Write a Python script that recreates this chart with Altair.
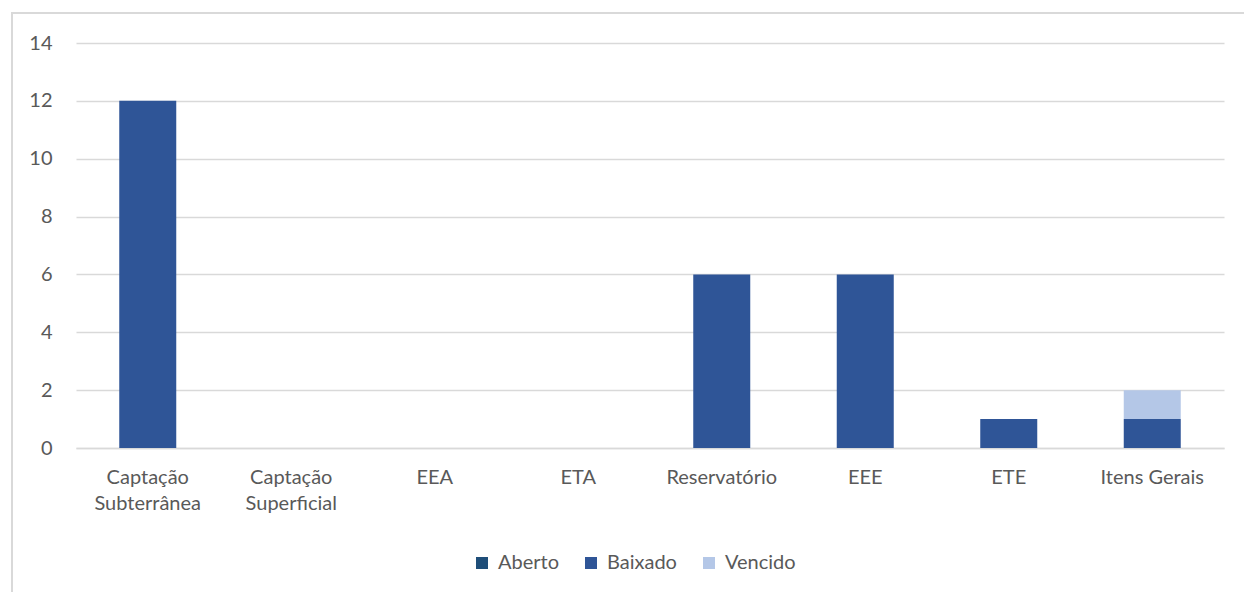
import altair as alt
import pandas as pd

categories = ["Captação\nSubterrânea", "Captação\nSuperficial", "EEA", "ETA",
              "Reservatório", "EEE", "ETE", "Itens Gerais"]
series = ["Aberto", "Baixado", "Vencido"]
aberto = [0, 0, 0, 0, 0, 0, 0, 0]
baixado = [12, 0, 0, 0, 6, 6, 1, 1]
vencido = [0, 0, 0, 0, 0, 0, 0, 1]
colors = ["#1F4E79", "#2F5597", "#B4C7E7"]
y_ticks = [0, 2, 4, 6, 8, 10, 12, 14]

rows = []
for s_i, (name, vals) in enumerate(zip(series, [aberto, baixado, vencido])):
    for c, v in zip(categories, vals):
        rows.append({"cat": c, "serie": name, "valor": v, "ordem": s_i})
df = pd.DataFrame(rows)

font = "Lato"
gray = "#595959"
grid = "#D9D9D9"
fs = 20

bars = alt.Chart(df).mark_bar(size=57).encode(
    x=alt.X("cat:N", sort=categories, title=None,
            scale=alt.Scale(paddingInner=0.6, paddingOuter=0.3),
            axis=alt.Axis(labelAngle=0, labelExpr="split(datum.label, '\\n')",
                          labelFont=font, labelFontSize=fs, labelColor=gray,
                          labelPadding=19, labelLineHeight=26, ticks=False,
                          domainColor=grid, domainWidth=1.5, labelBaseline="top")),
    y=alt.Y("valor:Q", stack="zero", title=None,
            scale=alt.Scale(domain=[0, 14], nice=False),
            axis=alt.Axis(values=y_ticks, labelFont=font, labelFontSize=fs,
                          labelColor=gray, labelPadding=24, ticks=False,
                          domain=False, gridColor=grid, gridWidth=1.5)),
    color=alt.Color("serie:N", sort=series,
                    scale=alt.Scale(domain=series, range=colors),
                    legend=alt.Legend(title=None, orient="none", direction="horizontal",
                                      legendX=396, legendY=510,
                                      symbolType="square", symbolSize=144,
                                      symbolStrokeWidth=0,
                                      labelFont=font, labelFontSize=fs,
                                      labelColor=gray, columnPadding=22,
                                      labelOffset=6)),
    order=alt.Order("ordem:Q", sort="ascending"),
)

border = alt.Chart(pd.DataFrame({"k": [0]})).mark_rect(
    fill=None, stroke=grid, strokeWidth=2
).encode(x=alt.value(-64), x2=alt.value(1200), y=alt.value(-30), y2=alt.value(600))

chart = alt.layer(border, bars).properties(
    width=1148, height=405,
    padding={"left": 76, "top": 43, "right": 20, "bottom": 144},
    autosize=alt.AutoSizeParams(type="none"),
    background="white",
).configure_view(stroke=None)

chart.save("out.html", embed_options={"renderer": "svg", "actions": False})
